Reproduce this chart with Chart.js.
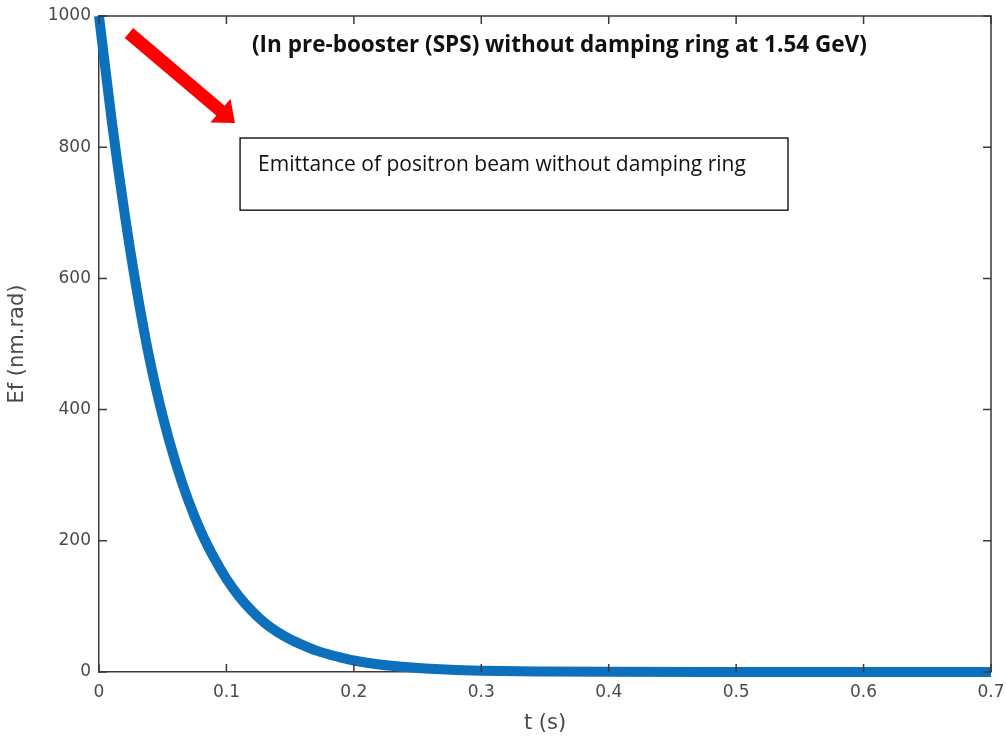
<!DOCTYPE html>
<html><head><meta charset="utf-8">
<script src="https://cdn.jsdelivr.net/npm/chart.js@4/dist/chart.umd.min.js"></script>
<style>html,body{margin:0;padding:0;background:#fff;}#wrap{width:1006px;height:736px;}</style>
</head><body><div id="wrap"><canvas id="c" width="1006" height="736"></canvas></div>
<script>
// ---- data ----
const timeS = [0,0.01,0.02,0.03,0.04,0.05,0.06,0.07,0.08,0.09,0.10,0.11,0.12,0.13,0.14,0.15,0.16,0.17,0.18,0.19,0.20,0.22,0.24,0.26,0.28,0.30,0.35,0.40,0.50,0.60,0.70];
const emittance = [1000,840,700,578,474,390,320,262,214,175,142,115,93,75,61,50,41,33,27,22,17.5,11.5,7.5,5,3.2,2,0.8,0.3,0.05,0,0];
const xTickValues = [0,0.1,0.2,0.3,0.4,0.5,0.6,0.7];
const xTickLabels = ['0','0.1','0.2','0.3','0.4','0.5','0.6','0.7'];
const yTickValues = [0,200,400,600,800,1000];
const yTickLabels = ['0','200','400','600','800','1000'];
const xTitle = 't (s)';
const yTitle = 'Ef (nm.rad)';
const headerNote = '(In pre-booster (SPS) without damping ring at 1.54 GeV)';
const boxNote = 'Emittance of positron beam without damping ring';
// annotation anchors in data units (t, Ef)
const arrowFrom = [0.0235, 974];
const arrowTo = [0.1067, 837];
const boxCorner1 = [0.1107, 814];
const boxCorner2 = [0.5407, 704];
const headerAnchor = [0.3613, 955];

const points = timeS.map((t,i)=>({x:t,y:emittance[i]}));
const AXIS = '#3a3a3a';
const LABEL = '#4a4a4a';
const TICKFONT = 'DejaVu Sans, Verdana, sans-serif';

const decorPlugin = {
  id:'decor',
  afterDraw(chart){
    const ctx = chart.ctx, xs = chart.scales.x, ys = chart.scales.y, a = chart.chartArea;
    ctx.save();
    ctx.strokeStyle = AXIS; ctx.lineWidth = 1.5;
    ctx.beginPath();
    ctx.moveTo(a.left, a.top); ctx.lineTo(a.right, a.top); ctx.lineTo(a.right, a.bottom);
    ctx.stroke();
    const tl = 8;
    ctx.beginPath();
    xTickValues.forEach(v=>{ const px = xs.getPixelForValue(v);
      ctx.moveTo(px, a.bottom); ctx.lineTo(px, a.bottom - tl);
      ctx.moveTo(px, a.top); ctx.lineTo(px, a.top + tl); });
    yTickValues.forEach(v=>{ const py = ys.getPixelForValue(v);
      ctx.moveTo(a.left, py); ctx.lineTo(a.left + tl, py);
      ctx.moveTo(a.right, py); ctx.lineTo(a.right - tl, py); });
    ctx.stroke();
    // red arrow
    const sx = xs.getPixelForValue(arrowFrom[0]), sy = ys.getPixelForValue(arrowFrom[1]);
    const tx = xs.getPixelForValue(arrowTo[0]), ty = ys.getPixelForValue(arrowTo[1]);
    const L = Math.hypot(tx-sx, ty-sy), dx=(tx-sx)/L, dy=(ty-sy)/L, nx=-dy, ny=dx;
    const hw=6.5, hl=19, hh=15.5;
    const hx = tx-dx*hl, hy = ty-dy*hl;
    ctx.fillStyle = '#ff0000';
    ctx.beginPath();
    ctx.moveTo(sx+nx*hw, sy+ny*hw);
    ctx.lineTo(hx+nx*hw, hy+ny*hw);
    ctx.lineTo(hx+nx*hh, hy+ny*hh);
    ctx.lineTo(tx, ty);
    ctx.lineTo(hx-nx*hh, hy-ny*hh);
    ctx.lineTo(hx-nx*hw, hy-ny*hw);
    ctx.lineTo(sx-nx*hw, sy-ny*hw);
    ctx.closePath(); ctx.fill();
    // box
    const bx1 = xs.getPixelForValue(boxCorner1[0]), by1 = ys.getPixelForValue(boxCorner1[1]);
    const bx2 = xs.getPixelForValue(boxCorner2[0]), by2 = ys.getPixelForValue(boxCorner2[1]);
    ctx.fillStyle = '#fff'; ctx.fillRect(bx1, by1, bx2-bx1, by2-by1);
    ctx.strokeStyle = '#000'; ctx.lineWidth = 1.3;
    ctx.strokeRect(bx1, by1, bx2-bx1, by2-by1);
    ctx.fillStyle = '#111';
    ctx.font = '21px "Open Sans", sans-serif';
    ctx.textAlign = 'left'; ctx.textBaseline = 'middle';
    ctx.fillText(boxNote, bx1 + 18, by1 + 27);
    // header note
    ctx.font = 'bold 22.5px "Open Sans", sans-serif';
    ctx.textAlign = 'center';
    ctx.fillText(headerNote, xs.getPixelForValue(headerAnchor[0]), ys.getPixelForValue(headerAnchor[1]));
    ctx.restore();
  }
};

new Chart(document.getElementById('c'), {
  type:'line',
  data:{datasets:[{data:points, borderColor:'#0c70bc', borderWidth:10, pointRadius:0,
    cubicInterpolationMode:'monotone', fill:false, clip:false}]},
  options:{
    responsive:false, animation:false, devicePixelRatio:1,
    layout:{padding:{top:16, right:15, left:0, bottom:0}},
    plugins:{legend:{display:false}, tooltip:{enabled:false}},
    scales:{
      x:{type:'linear', min:0, max:0.7,
        afterBuildTicks(s){ s.ticks = xTickValues.map(v=>({value:v})); },
        afterFit(s){ s.height = 64; s.paddingRight = 0; s.paddingLeft = 0; },
        grid:{display:true, drawOnChartArea:false, drawTicks:false},
        border:{display:true, color:AXIS, width:1.5},
        ticks:{padding:10, color:LABEL, font:{family:TICKFONT, size:17},
          callback:(v,i)=>xTickLabels[i]},
        title:{display:true, text:xTitle, color:LABEL, font:{family:TICKFONT, size:21}, padding:{top:2,bottom:0}}
      },
      y:{type:'linear', min:0, max:1000,
        afterBuildTicks(s){ s.ticks = yTickValues.map(v=>({value:v})); },
        afterFit(s){ s.width = 99; s.paddingTop = 0; s.paddingBottom = 0; },
        grid:{display:true, drawOnChartArea:false, drawTicks:false},
        border:{display:true, color:AXIS, width:1.5},
        ticks:{padding:8, color:LABEL, font:{family:TICKFONT, size:17},
          callback:(v,i)=>yTickLabels[i]},
        title:{display:true, text:yTitle, color:LABEL, font:{family:TICKFONT, size:21}, padding:{top:5,bottom:0}}
      }
    }
  },
  plugins:[decorPlugin]
});
</script></body></html>
